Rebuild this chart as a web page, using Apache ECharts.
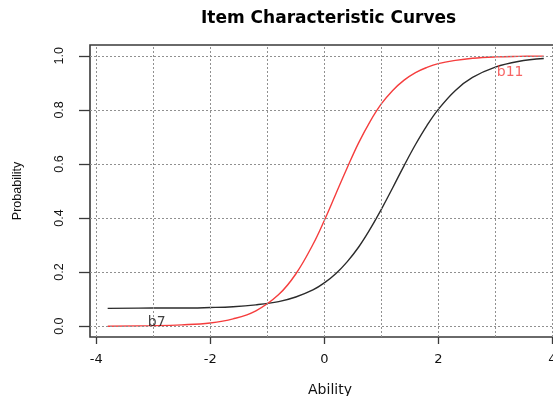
<!DOCTYPE html>
<html>
<head>
<meta charset="utf-8">
<script src="https://cdn.jsdelivr.net/npm/echarts@6/dist/echarts.min.js"></script>
<style>
  html, body { margin: 0; padding: 0; background: #fff; }
  #chart { width: 553px; height: 396px; }
</style>
</head>
<body>
<div id="chart"></div>
<script>
// Ability levels at which both item curves are sampled
const ability = [-3.8, -3.0, -2.5, -2.0, -1.6, -1.2, -0.8, -0.5, -0.2, 0, 0.2, 0.4, 0.6, 0.8,
                 1.0, 1.2, 1.4, 1.6, 1.8, 2.0, 2.3, 2.6, 3.0, 3.4, 3.85];
// Probability of a correct answer, item b7 (with guessing floor)
const probB7 = [0.066, 0.067, 0.067, 0.069, 0.072, 0.079, 0.091, 0.108, 0.134, 0.160, 0.194, 0.238, 0.292, 0.358,
                0.432, 0.512, 0.594, 0.672, 0.742, 0.802, 0.872, 0.920, 0.958, 0.979, 0.990];
// Probability of a correct answer, item b11
const probB11 = [0.000, 0.002, 0.005, 0.012, 0.027, 0.057, 0.117, 0.193, 0.302, 0.391, 0.488, 0.585, 0.677, 0.756,
                 0.822, 0.872, 0.910, 0.938, 0.957, 0.971, 0.983, 0.991, 0.996, 0.998, 0.999];

// Item labels and where they sit
const itemNames = ['b7', 'b11'];
const itemLabelX = [-2.94, 3.26];
const itemLabelY = [0.015, 0.94];

// Axis ticks and reference grid
const xTicks = [-4, -2, 0, 2, 4];
const yTicks = [0, 0.2, 0.4, 0.6, 0.8, 1.0];
const xGrid = [-4, -3, -2, -1, 0, 1, 2, 3, 4];
const yGrid = [0, 0.2, 0.4, 0.6, 0.8, 1.0];

const RED = '#f53d3d';
const DARK = '#2b2b2b';
const INK = '#111111';
const WIDE = '"DejaVu Sans", sans-serif';
const NARROW = '"Liberation Sans", Arial, sans-serif';

const chart = echarts.init(document.getElementById('chart'), null, { renderer: 'canvas' });

const gridMarks = xGrid.map(v => ({ xAxis: v })).concat(yGrid.map(v => ({ yAxis: v })));

chart.setOption({
  animation: false,
  backgroundColor: '#ffffff',
  title: {
    text: 'Item Characteristic Curves',
    left: 196,
    top: 5,
    textStyle: { fontFamily: WIDE, fontSize: 17, fontWeight: 'bold', color: '#000' }
  },
  grid: {
    left: 90, top: 45, right: -17, bottom: 59,
    outerBoundsMode: 'none',
    containLabel: false,
    show: true, borderColor: '#3a3a3a', borderWidth: 1.6, backgroundColor: 'transparent'
  },
  xAxis: {
    type: 'value',
    min: -4.11, max: 4.31,
    name: 'Ability',
    nameLocation: 'middle',
    nameGap: 46,
    nameTextStyle: { fontFamily: WIDE, fontSize: 14, color: INK },
    axisLine: { show: false, onZero: false },
    axisTick: { show: true, customValues: xTicks, length: 7, lineStyle: { color: '#3a3a3a', width: 1.3 } },
    axisLabel: { customValues: xTicks, margin: 16, fontFamily: WIDE, fontSize: 13, color: INK,
                 formatter: v => String(v) },
    splitLine: { show: false }
  },
  yAxis: {
    type: 'value',
    min: -0.04, max: 1.04,
    name: 'Probability',
    nameLocation: 'middle',
    nameGap: 66,
    nameTextStyle: { fontFamily: NARROW, fontSize: 12.5, color: INK },
    axisLine: { show: false, onZero: false },
    axisTick: { show: true, customValues: yTicks, length: 11, lineStyle: { color: '#3a3a3a', width: 1.3 } },
    axisLabel: { customValues: yTicks, rotate: 90, margin: 24, fontFamily: NARROW, fontSize: 12.5, color: INK,
                 formatter: v => v.toFixed(1) },
    splitLine: { show: false }
  },
  series: [
    {
      name: 'grid',
      type: 'line',
      data: [],
      silent: true,
      markLine: {
        silent: true,
        symbol: ['none', 'none'],
        label: { show: false },
        lineStyle: { type: [2, 2], color: '#909090', width: 1 },
        data: gridMarks
      }
    },
    {
      name: 'b7',
      type: 'line',
      smooth: 0.4,
      showSymbol: false,
      data: ability.map((x, i) => [x, probB7[i]]),
      lineStyle: { color: DARK, width: 1.4 },
      z: 3
    },
    {
      name: 'b11',
      type: 'line',
      smooth: 0.4,
      showSymbol: false,
      data: ability.map((x, i) => [x, probB11[i]]),
      lineStyle: { color: RED, width: 1.4 },
      z: 4
    },
    {
      name: 'item labels',
      type: 'scatter',
      symbolSize: 0,
      silent: true,
      z: 5,
      data: itemNames.map((n, i) => ({
        name: n,
        value: [itemLabelX[i], itemLabelY[i]],
        label: { color: i === 0 ? INK : RED }
      })),
      label: {
        show: true,
        position: 'inside',
        formatter: p => p.name,
        fontFamily: WIDE,
        fontSize: 14
      }
    }
  ]
});
</script>
</body>
</html>
